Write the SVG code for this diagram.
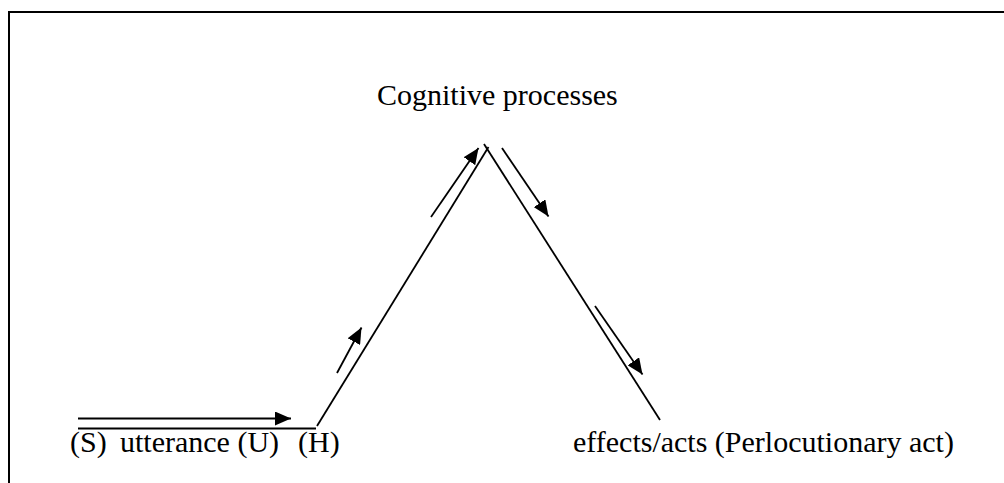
<svg xmlns="http://www.w3.org/2000/svg" width="1004" height="483" viewBox="0 0 1004 483">
  <style>
    .frame { fill: none; stroke: #000; stroke-width: 2; }
    .path { fill: none; stroke: #000; stroke-width: 1.8; }
    .flow { fill: none; stroke: #000; stroke-width: 1.8; marker-end: url(#head); }
    .label { font-family: "Liberation Serif", "Times New Roman", serif; font-size: 30px; fill: #000; }
  </style>
  <defs>
    <marker id="head" markerUnits="userSpaceOnUse" markerWidth="17" markerHeight="14" refX="16" refY="7" orient="auto">
      <path d="M0,0 L16,7 L0,14 z" fill="#000"/>
    </marker>
  </defs>

  <rect width="1004" height="483" fill="#fff"/>

  <!-- outer frame: top and left edges -->
  <path class="frame" d="M9,483 L9,12 L1004,12"/>

  <g id="speaker">
    <text class="label" x="70" y="452">(S)</text>
  </g>
  <g id="utterance">
    <text class="label" x="120" y="452">utterance (U)</text>
  </g>
  <g id="hearer">
    <text class="label" x="298" y="452">(H)</text>
  </g>
  <g id="cognitive-processes">
    <text class="label" x="377" y="105">Cognitive processes</text>
  </g>
  <g id="effects">
    <text class="label" x="573" y="452">effects/acts (Perlocutionary act)</text>
  </g>

  <g id="connectors">
    <!-- base line, rise to the apex and descent to the effects -->
    <path class="path" d="M78,428.5 L316,428.5"/>
    <path class="path" d="M317,426 L488.5,147"/>
    <path class="path" d="M484,144 L660,420"/>
    <!-- direction arrows -->
    <line class="flow" x1="78" y1="418.5" x2="291" y2="418.5"/>
    <line class="flow" x1="337" y1="373" x2="361.5" y2="327.5"/>
    <line class="flow" x1="431" y1="217" x2="478.5" y2="148"/>
    <line class="flow" x1="502" y1="148" x2="548.5" y2="216.5"/>
    <line class="flow" x1="595" y1="306" x2="642.5" y2="374.5"/>
  </g>
</svg>
